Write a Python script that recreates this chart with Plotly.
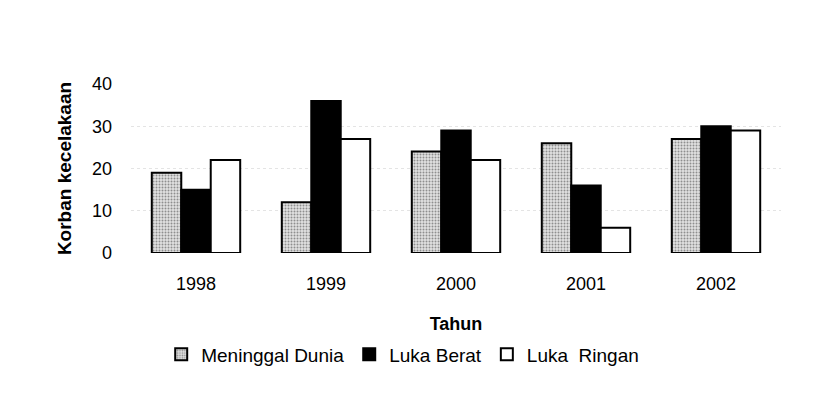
import plotly.graph_objects as go

years = ["1998", "1999", "2000", "2001", "2002"]
meninggal = [19, 12, 24, 26, 27]
luka_berat = [15, 36, 29, 16, 30]
luka_ringan = [22, 27, 22, 6, 29]

font = "Liberation Sans, Arial, sans-serif"
outline = dict(color="black", width=2)

fig = go.Figure()
fig.add_trace(go.Bar(
    x=years, y=meninggal, name="Meninggal Dunia",
    marker=dict(color="rgb(215,215,215)", line=outline,
                pattern=dict(shape=".", fgcolor="rgb(60,60,60)",
                             bgcolor="rgb(225,225,225)", size=3, solidity=0.35)),
))
fig.add_trace(go.Bar(
    x=years, y=luka_berat, name="Luka Berat",
    marker=dict(color="black", line=outline),
))
fig.add_trace(go.Bar(
    x=years, y=luka_ringan, name="Luka  Ringan",
    marker=dict(color="white", line=outline),
))

# page body adds ~8px, so the figure is a little smaller than the window
fig.update_layout(
    width=809, height=411,
    margin=dict(l=123, r=36, t=76, b=166),
    paper_bgcolor="white", plot_bgcolor="white",
    font=dict(family=font, size=18, color="black"),
    barmode="group", bargap=0.32, bargroupgap=0,
    showlegend=True,
    legend=dict(orientation="h", x=0.418, xanchor="center", y=-0.60, yanchor="middle",
                font=dict(size=19), itemwidth=30, traceorder="normal"),
)
fig.update_xaxes(
    showline=False, ticks="", ticklabelstandoff=18, automargin=False,
    title=dict(text="<b>Tahun</b>", font=dict(size=18), standoff=24),
)
fig.update_yaxes(
    range=[0, 40], dtick=10, showline=False, zeroline=False, automargin=False,
    showgrid=True, gridcolor="rgb(228,228,228)", griddash="dot", gridwidth=1,
    ticks="", ticklabelstandoff=18,
    title=dict(text="<b>Korban kecelakaan</b>", font=dict(size=19), standoff=15),
)

fig.write_html("out.html")
